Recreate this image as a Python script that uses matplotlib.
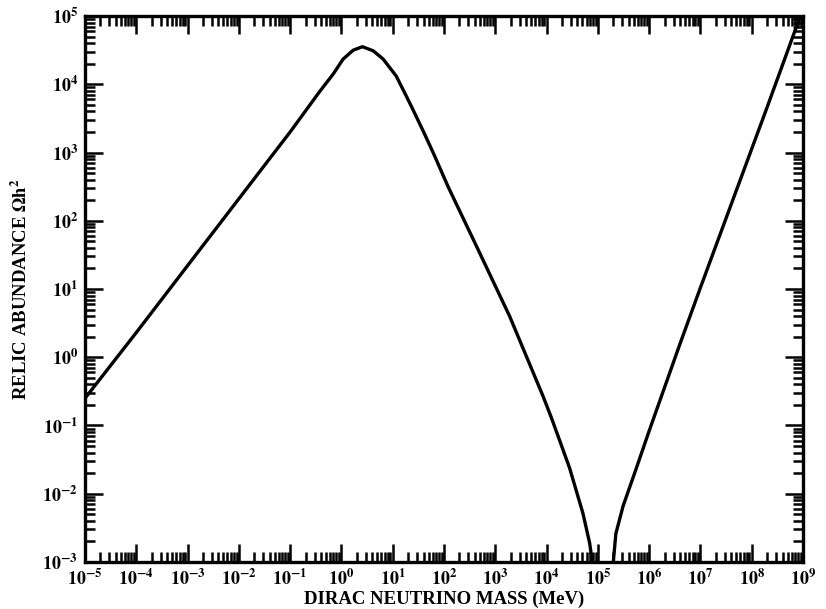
import numpy as np
import matplotlib
matplotlib.use('Agg')
import matplotlib.pyplot as plt
from matplotlib.ticker import LogLocator, FixedLocator, NullFormatter

# values (mass in MeV, relic abundance Omega h^2)
mass_low = [1e-5, 1e-4, 1e-3, 1e-2, 0.1, 0.38, 0.69, 1.08, 1.70, 2.57, 4.17,
            6.5, 11.7, 18.6, 25, 40, 62, 120, 468, 1.9e3, 8.5e3,
            1.26e4, 2.8e4, 5.1e4, 6.9e4, 7.8e4]
omega_low = [0.25, 2.3, 22, 210, 2.0e3, 7.9e3, 1.41e4, 2.34e4, 3.16e4, 3.55e4, 3.09e4,
             2.34e4, 1.32e4, 6.6e3, 4.2e3, 2.0e3, 980, 316, 37, 4.0, 0.27,
             0.126, 0.024, 5.2e-3, 1.9e-3, 1.0e-3]

mass_high = [2.0e5, 2.24e5, 3.1e5, 5.2e5, 1.02e6, 4.0e6, 1e7, 4.4e7, 1.95e8,
             7.4e8, 8.9e8]
omega_high = [1.0e-3, 2.6e-3, 6.6e-3, 0.020, 0.087, 1.58, 10.5, 214, 4.4e3,
              6.9e4, 1.0e5]

xticks = [10.0 ** k for k in range(-5, 10)]
yticks = [10.0 ** k for k in range(-3, 6)]

plt.rcParams['font.family'] = 'Liberation Serif'
plt.rcParams['font.weight'] = 'bold'
plt.rcParams['mathtext.fontset'] = 'stix'

fig = plt.figure(figsize=(8.26, 6.09), dpi=100)
ax = fig.add_axes([0.1029, 0.0772, 0.8693, 0.8965])

ax.plot(mass_low, omega_low, color='black', lw=2.4, solid_joinstyle='round')
ax.plot(mass_high, omega_high, color='black', lw=2.4, solid_joinstyle='round')

ax.set_xscale('log')
ax.set_yscale('log')
ax.set_xlim(1e-5, 1e9)
ax.set_ylim(1e-3, 1e5)

ax.xaxis.set_major_locator(FixedLocator(xticks))
ax.yaxis.set_major_locator(FixedLocator(yticks))
ax.xaxis.set_minor_locator(LogLocator(base=10, subs=np.arange(2, 10), numticks=30))
ax.yaxis.set_minor_locator(LogLocator(base=10, subs=np.arange(2, 10), numticks=30))
ax.xaxis.set_minor_formatter(NullFormatter())
ax.yaxis.set_minor_formatter(NullFormatter())
ax.set_xticklabels([r'$\mathbf{10^{%d}}$' % k for k in range(-5, 10)])
ax.set_yticklabels([r'$\mathbf{10^{%d}}$' % k for k in range(-3, 6)])

ax.tick_params(which='both', direction='in', top=True, right=True, width=1.8,
               labelsize=13)
ax.tick_params(which='major', length=13, pad=5)
ax.tick_params(which='minor', length=7)
for s in ax.spines.values():
    s.set_linewidth(2.4)

ax.set_xlabel('DIRAC NEUTRINO MASS (MeV)', fontsize=13.5, fontweight='bold', labelpad=1)
ax.set_ylabel(r'RELIC ABUNDANCE $\mathbf{\Omega h^2}$', fontsize=13.5,
              fontweight='bold', labelpad=8)

fig.savefig('out.png', dpi=100)
